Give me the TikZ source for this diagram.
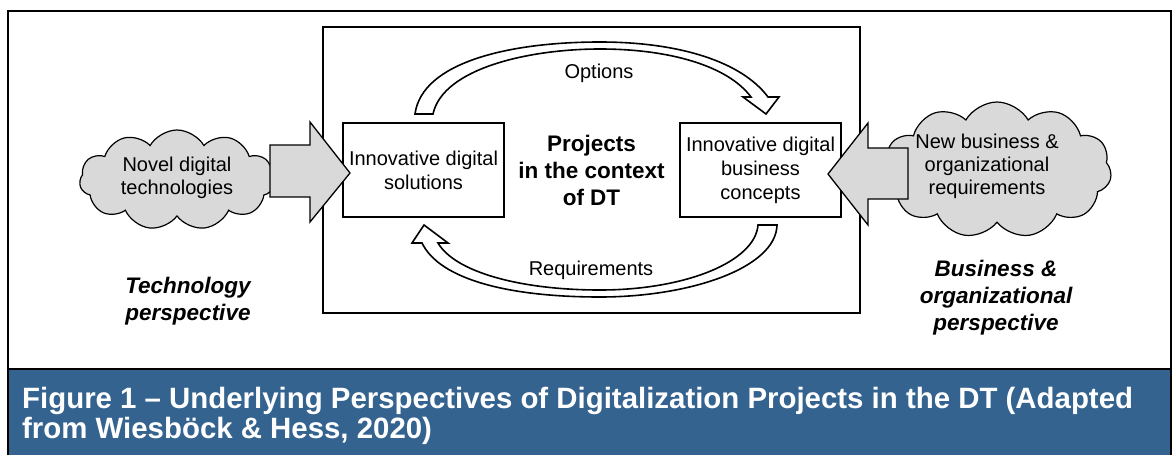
\documentclass[tikz,border=0pt]{standalone}
\usepackage{fontspec}
\setmainfont{Liberation Sans}
\usetikzlibrary{shapes.symbols}
\definecolor{capblue}{RGB}{52,99,143}
\definecolor{cloudgray}{RGB}{217,217,217}
\tikzset{
  box/.style={draw, line width=1.8pt, minimum width=161pt, minimum height=94pt, inner sep=0pt, align=center, font=\fontsize{20}{24}\selectfont},
  puff/.style={cloud, cloud puffs=11, cloud puff arc=120, draw, line width=1.2pt, fill=cloudgray, inner sep=0pt},
  puffline/.style={align=center, font=\fontsize{20}{23}\selectfont},
  blockarrow/.style={draw, line width=1.3pt, fill=cloudgray, line join=miter},
  bendarrow/.style={draw, line width=1.6pt, fill=white, line join=miter},
  persp/.style={align=center, font=\fontsize{22.5}{27}\selectfont\bfseries\itshape},
  label/.style={font=\fontsize{20}{24}\selectfont}
}
\begin{document}
\begin{tikzpicture}[x=1pt, y=-1pt]
    \useasboundingbox (0,0) rectangle (1174,455);
    \fill[capblue] (8,369) rectangle (1171,455);
    \draw[line width=2.5pt] (8,455) -- (8,11) -- (1171,11) -- (1171,455);
    \draw[line width=2pt] (8,369) -- (1171,369);
    \node[anchor=north west, inner sep=0pt, text=white, align=left, font=\fontsize{29.4}{30}\selectfont\bfseries] (caption) at (22,387)
      {Figure 1 – Underlying Perspectives of Digitalization Projects in the DT (Adapted\\from Wiesböck \& Hess, 2020)};

    \node[draw, line width=2pt, minimum width=537pt, minimum height=286pt, align=center, font=\fontsize{22.5}{27}\selectfont\bfseries] (dt) at (591.5,170)
      {Projects\\in the context\\of DT};
    \node[box] (sol) at (423.5,170) {Innovative digital\\solutions};
    \node[box] (con) at (760.5,170) {Innovative digital\\business\\concepts};
    \node[label] (opt) at (599,73) {Options};
    \node[label] (req) at (591,270) {Requirements};

    \node[puff, aspect=1.95, minimum width=195pt, minimum height=100pt] (novel) at (177,180) {};
    \node[puffline] (novel-text) at (177,178) {Novel digital\\technologies};
    \node[puff, aspect=1.7, minimum width=229pt, minimum height=136pt] (newbiz) at (997,170) {};
    \node[puffline] (newbiz-text) at (987,166) {New business \&\\organizational\\requirements};
    \node[persp] (tech) at (188,301) {Technology\\perspective};
    \node[persp] (biz) at (996,298) {Business \&\\organizational\\perspective};

    \draw[blockarrow] (270,145) -- (310,145) -- (310,122) -- (350,173) -- (310,222) -- (310,197) -- (270,197) -- cycle;
    \draw[blockarrow] (908,148) -- (868,148) -- (868,123) -- (828,174) -- (868,225) -- (868,199) -- (908,199) -- cycle;

    \draw[bendarrow] (415,114) .. controls (422,62) and (510,42) .. (600,42)
      .. controls (680,42) and (742,62) .. (768,97) -- (779,97) -- (766,114) -- (743,97) -- (751,97)
      .. controls (728,66) and (670,49) .. (600,49) .. controls (530,49) and (443,68) .. (433,114) -- cycle;
    \draw[bendarrow] (777,225) .. controls (776,268) and (690,297) .. (600,297)
      .. controls (510,297) and (440,280) .. (422,243) -- (412,243) -- (424,225) -- (448,243) -- (438,243)
      .. controls (455,272) and (520,290) .. (600,290) .. controls (685,290) and (755,262) .. (758,225) -- cycle;
\end{tikzpicture}
\end{document}
